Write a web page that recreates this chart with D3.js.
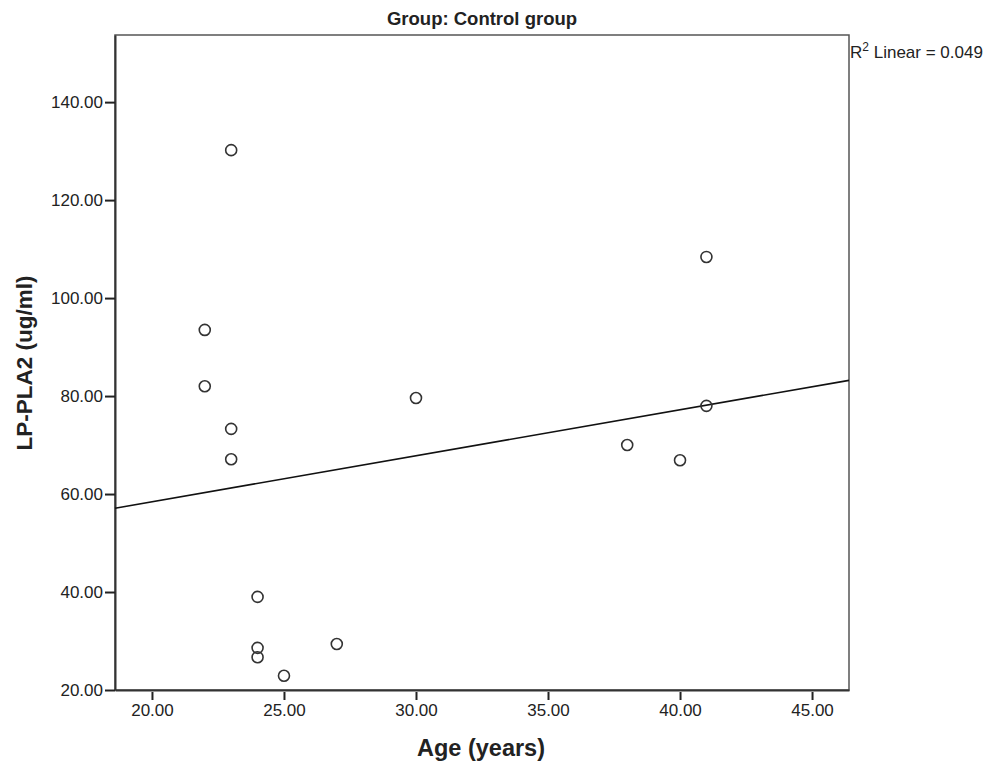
<html>
<head>
<script src="https://d3js.org/d3.v7.min.js"></script>
<style>
body{margin:0;background:#fff;}
text{font-family:"Liberation Sans",Arial,sans-serif;fill:#222;}
</style>
</head>
<body>
<script>
// ages and LP-PLA2 values
var ages  = [23, 22, 22, 23, 23, 24, 24, 24, 25, 27, 30, 38, 40, 41, 41];
var plaVals = [130.2, 93.5, 82.0, 73.3, 67.1, 39.0, 28.6, 26.7, 22.9, 29.4, 79.6, 70.0, 66.9, 108.4, 78.0];
var xTicks = [20, 25, 30, 35, 40, 45];
var yTicks = [20, 40, 60, 80, 100, 120, 140];
var title = "Group: Control group";
var r2Text = "0.049";

var W = 989, H = 769;
var pL = 115, pR = 849, pT = 35, pB = 690;

var svg = d3.select("body").append("svg")
	.attr("width", W).attr("height", H);

var x = d3.scaleLinear().domain([18.6, 46.4]).range([pL, pR]);
var y = d3.scaleLinear().domain([20, 153.7]).range([pB, pT]);

// frame
svg.append("rect")
	.attr("x", pL).attr("y", pT)
	.attr("width", pR-pL).attr("height", pB-pT)
	.attr("fill", "none").attr("stroke", "#555").attr("stroke-width", 1.5);

var xAxis = svg.append("g")
	.attr("transform", "translate(0," + pB + ")")
	.call(d3.axisBottom(x).tickValues(xTicks).tickFormat(d3.format(".2f")).tickSize(10).tickSizeOuter(0).tickPadding(4));
var yAxis = svg.append("g")
	.attr("transform", "translate(" + pL + ",0)")
	.call(d3.axisLeft(y).tickValues(yTicks).tickFormat(d3.format(".2f")).tickSize(10).tickSizeOuter(0).tickPadding(2));

[xAxis, yAxis].forEach(function(a){
	a.select(".domain").attr("stroke", "#333").attr("stroke-width", 2);
	a.selectAll(".tick line").attr("stroke", "#222").attr("stroke-width", 2);
	a.selectAll(".tick text").style("font-size", "17px").attr("fill", "#222");
});
// x ticks start a little below the axis
xAxis.selectAll(".tick line").attr("y1", 2);

// least squares fit
var mx = d3.mean(ages), my = d3.mean(plaVals);
var sxy = d3.sum(ages, function(a, i){ return (a-mx)*(plaVals[i]-my); });
var sxx = d3.sum(ages, function(a){ return (a-mx)*(a-mx); });
var slope = sxy/sxx, icpt = my - slope*mx;
var xd = x.domain();
svg.append("line")
	.attr("x1", x(xd[0])).attr("y1", y(icpt + slope*xd[0]))
	.attr("x2", x(xd[1])).attr("y2", y(icpt + slope*xd[1]))
	.attr("stroke", "#111").attr("stroke-width", 1.6);

svg.append("g").selectAll("circle")
	.data(ages)
	.enter().append("circle")
	.attr("cx", function(d){ return x(d); })
	.attr("cy", function(d, i){ return y(plaVals[i]); })
	.attr("r", 5.5)
	.attr("fill", "none")
	.attr("stroke", "#333")
	.attr("stroke-width", 1.6);

svg.append("text")
	.attr("x", 482).attr("y", 25)
	.attr("text-anchor", "middle")
	.style("font-size", "18.5px").style("font-weight", "bold")
	.text(title);

var r2 = svg.append("text")
	.attr("x", pR+1).attr("y", 58)
	.style("font-size", "17px");
r2.append("tspan").text("R");
r2.append("tspan").attr("dy", -7).style("font-size", "12px").text("2");
r2.append("tspan").attr("dy", 7).text(" Linear = " + r2Text);

svg.append("text")
	.attr("x", 481).attr("y", 756)
	.attr("text-anchor", "middle")
	.style("font-size", "23.5px").style("font-weight", "bold")
	.text("Age (years)");

svg.append("text")
	.attr("transform", "translate(32,363) rotate(-90)")
	.attr("text-anchor", "middle")
	.style("font-size", "22.5px").style("font-weight", "bold")
	.text("LP-PLA2 (ug/ml)");
</script>
</body>
</html>
